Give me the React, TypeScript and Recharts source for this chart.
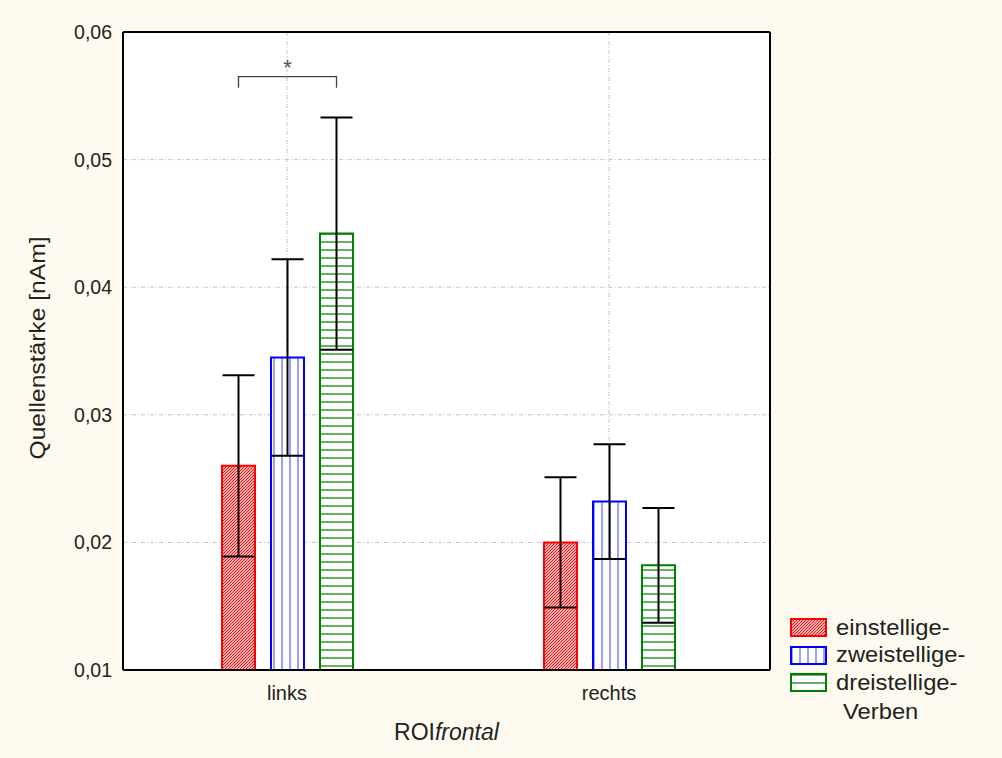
import { BarChart, Bar, XAxis, YAxis, CartesianGrid, ErrorBar } from 'recharts';

document.body.style.margin = '0';
document.body.style.background = '#fefaef';

const categories = ['links', 'rechts'];
const seriesNames = ['einstellige-', 'zweistellige-', 'dreistellige-'];
const einstellige = [0.026, 0.02];
const zweistellige = [0.0345, 0.0232];
const dreistellige = [0.0442, 0.0182];
const einstelligeErr = [0.0071, 0.0051];
const zweistelligeErr = [0.0077, 0.0045];
const dreistelligeErr = [0.0091, 0.0045];
const yTicks = [0.01, 0.02, 0.03, 0.04, 0.05, 0.06];
const SIG_LEVEL = 0.0565;

const Y_MIN = 0.01;
const BAR_SIZE = 33;
const BAR_GAP = 16;
const FONT = 'Arial, "Liberation Sans", sans-serif';

const data = categories.map((cat, i) => ({
  cat,
  ein: einstellige[i],
  zwei: zweistellige[i],
  drei: dreistellige[i],
  einErr: einstelligeErr[i],
  zweiErr: zweistelligeErr[i],
  dreiErr: dreistelligeErr[i],
}));

const STYLES = [
  { key: 'ein', err: 'einErr', stroke: '#ff0000', fill: 'url(#hatchRed)' },
  { key: 'zwei', err: 'zweiErr', stroke: '#0000ff', fill: 'url(#vertBlue)' },
  { key: 'drei', err: 'dreiErr', stroke: '#008000', fill: 'url(#horzGreen)' },
];

const fmt = (v: number) => v.toFixed(2).replace('.', ',');

// significance bracket drawn above the left group (einstellige vs dreistellige)
const renderBracket = (props: any) => {
  const { x, y, width, height, index } = props;
  if (index !== 0) return <g />;
  const bottom = y + height;
  const perUnit = height / (dreistellige[0] - Y_MIN);
  const yb = bottom - (SIG_LEVEL - Y_MIN) * perUnit;
  const x2 = x + width / 2;
  const x1 = x2 - 2 * (BAR_SIZE + BAR_GAP);
  return (
    <g>
      <path d={`M${x1},${yb + 11} V${yb} H${x2} V${yb + 11}`} stroke="#444" strokeWidth={1.3} fill="none" />
      <text x={(x1 + x2) / 2} y={yb - 2} textAnchor="middle" fontSize={22} fill="#555" fontFamily={FONT}>
        *
      </text>
    </g>
  );
};

const XLabel = (props: any) => {
  const vb = props.viewBox || {};
  const cx = vb.x + vb.width / 2;
  return (
    <text x={cx} y={vb.y + 70} textAnchor="middle" fontSize={23} fill="#222" fontFamily={FONT}>
      ROI<tspan fontStyle="italic">frontal</tspan>
    </text>
  );
};

const YLabel = (props: any) => {
  const vb = props.viewBox || {};
  const cy = vb.y + vb.height / 2 - 3;
  const cx = 37;
  return (
    <text
      x={cx}
      y={cy}
      transform={`rotate(-90 ${cx} ${cy})`}
      textAnchor="middle"
      dominantBaseline="central"
      fontSize={22}
      textLength={223}
      lengthAdjust="spacingAndGlyphs"
      fill="#222"
      fontFamily={FONT}
    >
      Quellenstärke [nAm]
    </text>
  );
};

const PatternDefs = ({ prefix = '' }: { prefix?: string }) => (
  <defs>
    <pattern id={prefix + 'hatchRed'} patternUnits="userSpaceOnUse" width={3} height={3}>
      <rect width={3} height={3} fill="#fff" />
      <path d="M-1,1 l2,-2 M0,3 l3,-3 M2,4 l2,-2" stroke="#ff0000" strokeWidth={1.1} />
    </pattern>
    <pattern id={prefix + 'vertBlue'} patternUnits="userSpaceOnUse" width={8} height={8}>
      <rect width={8} height={8} fill="#fff" />
      <line x1={2} y1={0} x2={2} y2={8} stroke="#7f7fff" strokeWidth={1.5} />
    </pattern>
    <pattern id={prefix + 'horzGreen'} patternUnits="userSpaceOnUse" width={8} height={8}>
      <rect width={8} height={8} fill="#fff" />
      <line x1={0} y1={2} x2={8} y2={2} stroke="#108a10" strokeWidth={1.3} />
    </pattern>
  </defs>
);

const LegendBox = () => (
  <div style={{ position: 'absolute', left: 790, top: 614, fontFamily: FONT, fontSize: 22, color: '#222' }}>
    <svg width={0} height={0} style={{ position: 'absolute' }}>
      <PatternDefs prefix="lg-" />
    </svg>
    {seriesNames.map((name, i) => (
      <div key={name} style={{ display: 'flex', alignItems: 'center', height: 27.5 }}>
        <svg width={37} height={19} style={{ marginRight: 9 }}>
          <rect
            x={1}
            y={1}
            width={35}
            height={17}
            fill={STYLES[i].fill.replace('#', '#lg-')}
            stroke={STYLES[i].stroke}
            strokeWidth={2}
          />
        </svg>
        <span style={{ display: 'inline-block', transform: 'scaleX(1.08)', transformOrigin: 'left center' }}>{name}</span>
      </div>
    ))}
    <div style={{ paddingLeft: 53, height: 30, lineHeight: '30px' }}>
      <span style={{ display: 'inline-block', transform: 'scaleX(1.08)', transformOrigin: 'left center' }}>Verben</span>
    </div>
  </div>
);

export default function App() {
  return (
    <div style={{ position: 'relative', width: 1002, height: 758, background: '#fefaef' }}>
      <BarChart
        width={1002}
        height={758}
        data={data}
        margin={{ top: 32, right: 232, bottom: 0, left: 0 }}
        barSize={BAR_SIZE}
        barGap={BAR_GAP}
      >
        <PatternDefs />
        <CartesianGrid
          stroke="#c4c4c4"
          strokeDasharray="4 2 1 2"
          fill="#ffffff"
          fillOpacity={1}
        />
        <XAxis
          dataKey="cat"
          height={88}
          padding={{ left: 3, right: 0 }}
          tickLine={false}
          tickSize={5}
          tickMargin={11}
          axisLine={{ stroke: '#000', strokeWidth: 2 }}
          tick={{ fontSize: 20, fill: '#222', fontFamily: FONT }}
          label={<XLabel />}
        />
        <XAxis
          xAxisId="top"
          dataKey="cat"
          orientation="top"
          mirror
          tick={false}
          tickLine={false}
          axisLine={{ stroke: '#000', strokeWidth: 2 }}
        />
        <YAxis
          domain={[Y_MIN, 0.06]}
          ticks={yTicks}
          width={123}
          tickFormatter={fmt}
          tickLine={false}
          tickSize={5}
          tickMargin={6}
          axisLine={{ stroke: '#000', strokeWidth: 2 }}
          tick={{ fontSize: 19.5, fill: '#222', fontFamily: FONT }}
          allowDataOverflow
          label={<YLabel />}
        />
        <YAxis
          yAxisId="inner"
          domain={[Y_MIN, 0.06]}
          ticks={yTicks}
          mirror
          tick={false}
          tickSize={5}
          axisLine={false}
          tickLine={{ stroke: '#000', strokeWidth: 1.5 }}
        />
        <YAxis
          yAxisId="right"
          orientation="right"
          mirror
          domain={[Y_MIN, 0.06]}
          tick={false}
          tickLine={false}
          axisLine={{ stroke: '#000', strokeWidth: 2 }}
        />
        {STYLES.map((s) => (
          <Bar
            key={s.key}
            dataKey={s.key}
            fill={s.fill}
            stroke={s.stroke}
            strokeWidth={2}
            isAnimationActive={false}
            label={s.key === 'drei' ? renderBracket : undefined}
          >
            <ErrorBar dataKey={s.err} width={16} stroke="#000" strokeWidth={2} direction="y" />
          </Bar>
        ))}
      </BarChart>
      <LegendBox />
    </div>
  );
}
